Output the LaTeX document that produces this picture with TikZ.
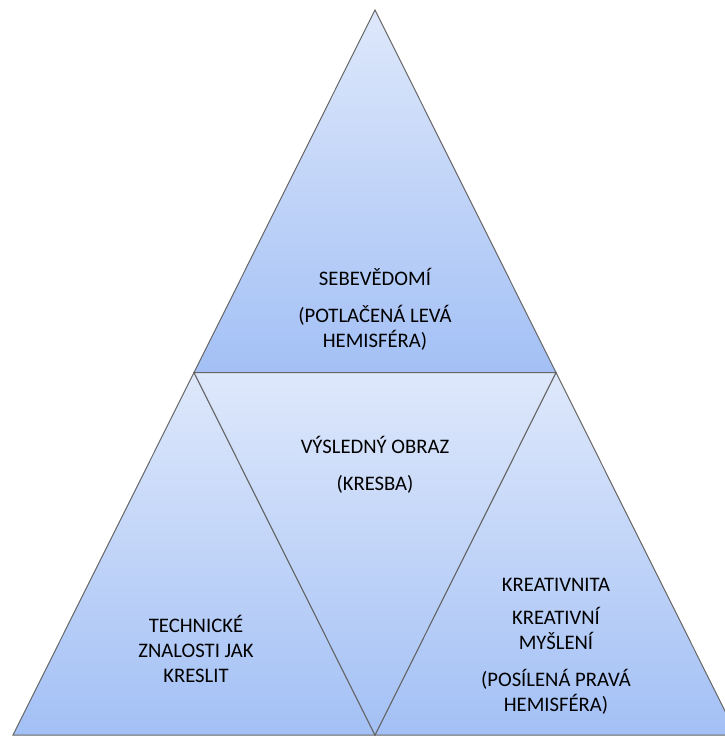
\documentclass[tikz,border=0pt]{standalone}
\usepackage{fontspec}
\setmainfont{Carlito}
\usepackage{tikz}
\definecolor{lightblue}{RGB}{222,232,251}
\definecolor{darkblue}{RGB}{163,192,245}
\tikzset{
  part/.style={top color=lightblue, bottom color=darkblue, draw=black!60, line width=0.75pt, line join=miter},
  label/.style={align=center, font=\fontsize{15.5}{18.75}\selectfont, text=black}
}

\begin{document}
\begin{tikzpicture}[x=0.75pt, y=-0.75pt]
        \useasboundingbox (0,0) rectangle (725,736);
        \clip (0,0) rectangle (725,736);

        % Corners
        \coordinate (apex) at (375,10);
        \coordinate (midl) at (194,372.5);
        \coordinate (midr) at (556,372.5);
        \coordinate (botl) at (13,735);
        \coordinate (botm) at (375,735);
        \coordinate (botr) at (737,735);

        % Triangles
        \path[part] (apex) -- (midr) -- (midl) -- cycle;
        \path[part] (midl) -- (botm) -- (botl) -- cycle;
        \path[part] (midr) -- (botr) -- (botm) -- cycle;
        \path[part] (midl) -- (midr) -- (botm) -- cycle;

        % Labels
        \node[label] (self) at (375,309) {SEBEVĚDOMÍ\\[9pt](POTLAČENÁ LEVÁ\\HEMISFÉRA)};
        \node[label] (result) at (375,465) {VÝSLEDNÝ OBRAZ\\[9pt](KRESBA)};
        \node[label] (tech) at (196,649) {TECHNICKÉ\\ZNALOSTI JAK\\KRESLIT};
        \node[label] (creat) at (556,646) {KREATIVNITA\\[6pt]KREATIVNÍ\\MYŠLENÍ\\[9pt](POSÍLENÁ PRAVÁ\\HEMISFÉRA)};
    \end{tikzpicture}
\end{document}
